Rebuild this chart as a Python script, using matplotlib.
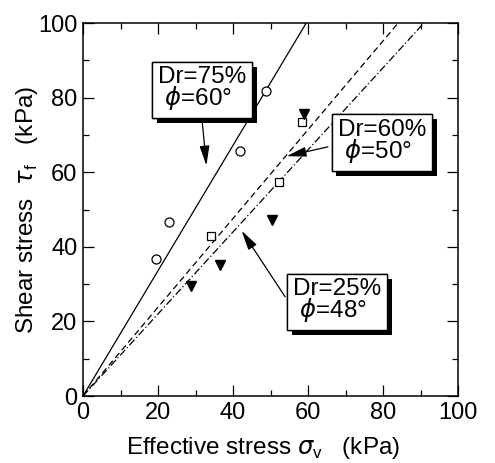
import numpy as np
import matplotlib
matplotlib.use("Agg")
import matplotlib.pyplot as plt
import matplotlib.patheffects as pe

plt.rcParams['font.family'] = ['Liberation Sans', 'DejaVu Sans']
plt.rcParams['mathtext.fontset'] = 'custom'
plt.rcParams['mathtext.rm'] = 'Liberation Sans'
plt.rcParams['mathtext.it'] = 'DejaVu Sans:italic'
plt.rcParams['mathtext.bf'] = 'Liberation Sans:bold'

# data
dr75_x = [19.5, 23.0, 41.9, 48.8]
dr75_y = [36.6, 46.6, 65.7, 81.9]
dr60_x = [34.1, 52.3, 58.5]
dr60_y = [42.9, 57.5, 73.4]
dr25_x = [28.7, 36.5, 50.3, 58.9]
dr25_y = [29.5, 35.1, 47.2, 75.6]

# failure lines tau = k * sigma
slopes = [1.68, 1.19, 1.10]
line_styles = ['-', (0, (5, 3)), (0, (6, 2, 1, 2))]

labels = ["Dr=75%\n $\\phi$=60°", "Dr=60%\n $\\phi$=50°", "Dr=25%\n $\\phi$=48°"]
label_pos = [(31.7, 82.3), (79.7, 68.2), (67.7, 25.4)]
arrow_head = [(32.9, 61.8), (54.3, 64.3), (42.3, 44.3)]
arrow_tail = [(31.7, 74.5), (65.3, 66.8), (53.9, 26.6)]

ticks = [0, 20, 40, 60, 80, 100]

fs = 17
fig = plt.figure(figsize=(4.95, 4.63), dpi=100)
ax = fig.add_axes([0.1677, 0.1447, 0.7576, 0.8056])

xs = np.array([0, 100])
for k, ls in zip(slopes, line_styles):
    ax.plot(xs, k * xs, color='black', lw=0.9, linestyle=ls)

ax.plot(dr75_x, dr75_y, 'o', mfc='white', mec='black', ms=6.5, mew=0.9, ls='none')
ax.plot(dr60_x, dr60_y, 's', mfc='white', mec='black', ms=6, mew=0.9, ls='none')
ax.plot(dr25_x, dr25_y, 'v', mfc='black', mec='black', ms=7.5, ls='none')

for txt, pos, head, tail in zip(labels, label_pos, arrow_head, arrow_tail):
    ax.annotate('', xy=head, xytext=tail,
                arrowprops=dict(arrowstyle='-|>,head_length=1.2,head_width=0.3',
                                color='black', lw=0.9, shrinkA=0, shrinkB=0))
    t = ax.text(pos[0], pos[1], txt, fontsize=17.5, ha='center', va='center',
                multialignment='left', linespacing=0.82, zorder=5,
                bbox=dict(boxstyle='square,pad=0.25', fc='white', ec='black', lw=1.0))
    t.get_bbox_patch().set_path_effects([
        pe.withSimplePatchShadow(offset=(3.5, -3.5), shadow_rgbFace='black', alpha=1.0),
        pe.Normal()])

ax.set_xlim(0, 100)
ax.set_ylim(0, 100)
ax.set_xticks(ticks)
ax.set_yticks(ticks)
ax.set_xticks(range(10, 100, 20), minor=True)
ax.set_yticks(range(10, 100, 20), minor=True)
ax.tick_params(which='both', direction='in', top=True, right=True,
               labelsize=fs, width=0.9)
ax.tick_params(which='major', length=8, pad=4)
ax.tick_params(which='minor', length=4)
for s in ax.spines.values():
    s.set_linewidth(1.1)

ax.set_xlabel(r"Effective stress $\sigma_{\rm v}$" + "   (kPa)", fontsize=17.5, va='center')
ax.xaxis.set_label_coords(0.479, -0.139)
ax.set_ylabel(r"Shear stress  $\tau_{\rm f}$" + "   (kPa)", fontsize=17.5, va='center')
ax.yaxis.set_label_coords(-0.149, 0.5)

fig.savefig("out.png", dpi=100)
